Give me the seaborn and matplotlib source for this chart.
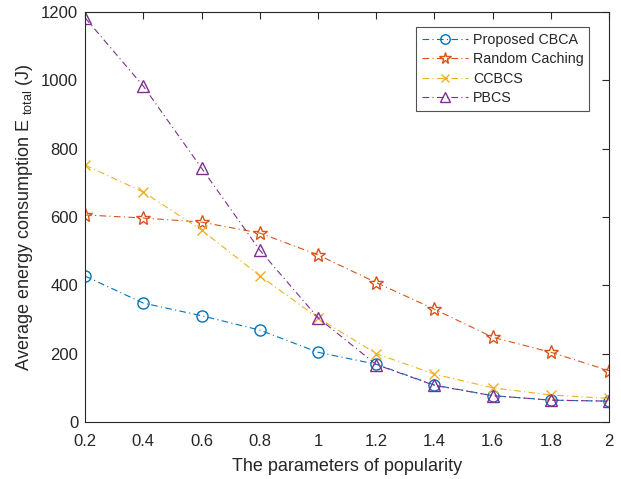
import numpy as np
import pandas as pd
import matplotlib
matplotlib.use("Agg")
import matplotlib.pyplot as plt
import seaborn as sns

# Popularity parameter (Zipf exponent) and energy consumption per scheme
popularity = [0.2, 0.4, 0.6, 0.8, 1.0, 1.2, 1.4, 1.6, 1.8, 2.0]
cbca = [427, 348, 311, 269, 204, 169, 108, 77, 64, 61]
random_caching = [606, 597, 585, 553, 489, 408, 330, 248, 204, 150]
ccbcs = [752, 673, 562, 428, 305, 200, 140, 100, 79, 69]
pbcs = [1183, 983, 743, 503, 305, 168, 107, 77, 64, 61]

series_names = ["Proposed CBCA", "Random Caching", "CCBCS", "PBCS"]
series_values = [cbca, random_caching, ccbcs, pbcs]

x_ticks = [0.2, 0.4, 0.6, 0.8, 1, 1.2, 1.4, 1.6, 1.8, 2]
x_tick_labels = ["0.2", "0.4", "0.6", "0.8", "1", "1.2", "1.4", "1.6", "1.8", "2"]
y_ticks = [0, 200, 400, 600, 800, 1000, 1200]

sns.set_theme(style="white")
plt.rcParams["font.family"] = ["Liberation Sans", "DejaVu Sans"]
plt.rcParams["mathtext.default"] = "regular"

colors = ["#0072BD", "#D95319", "#EDB120", "#7E2F8E"]
markers = ["o", "*", "x", "^"]
msizes = [8, 10, 7, 9]

fig = plt.figure(figsize=(6.21, 4.79), dpi=100)
ax = fig.add_axes([0.137, 0.119, 0.844, 0.856])

for name, vals, c, m, ms in zip(series_names, series_values, colors, markers, msizes):
    df = pd.DataFrame({"x": popularity, "y": vals})
    sns.lineplot(data=df, x="x", y="y", ax=ax, color=c, label=name,
                 linestyle=(0, (6, 3, 1, 3)), linewidth=0.8,
                 marker=m, markersize=ms, markerfacecolor="none",
                 markeredgecolor=c, markeredgewidth=1.0)

ax.set_xlim(0.2, 2)
ax.set_ylim(0, 1200)
ax.set_xticks(x_ticks)
ax.set_xticklabels(x_tick_labels)
ax.set_yticks(y_ticks)
ax.tick_params(direction="in", length=5, width=0.8, labelsize=12,
               top=True, right=True, colors="#262626")
ax.tick_params(axis="x", pad=9)
ax.tick_params(axis="y", pad=5)
for s in ax.spines.values():
    s.set_color("#262626")
    s.set_linewidth(0.8)
    s.set_visible(True)

ax.set_xlabel("The parameters of popularity", fontsize=13, color="#262626", labelpad=6)
ax.set_ylabel("Average energy consumption E $_{total}$ (J)", fontsize=13, color="#262626", labelpad=4)

leg = ax.legend(loc="upper right", bbox_to_anchor=(0.962, 0.963), fontsize=10.3,
                handlelength=3.2, frameon=True, fancybox=False, borderpad=0.4,
                labelspacing=0.38, handletextpad=0.35, borderaxespad=0,
                markerscale=0.85)
leg.get_frame().set_edgecolor("#262626")
leg.get_frame().set_linewidth(0.8)

fig.savefig("out.png", dpi=100)
